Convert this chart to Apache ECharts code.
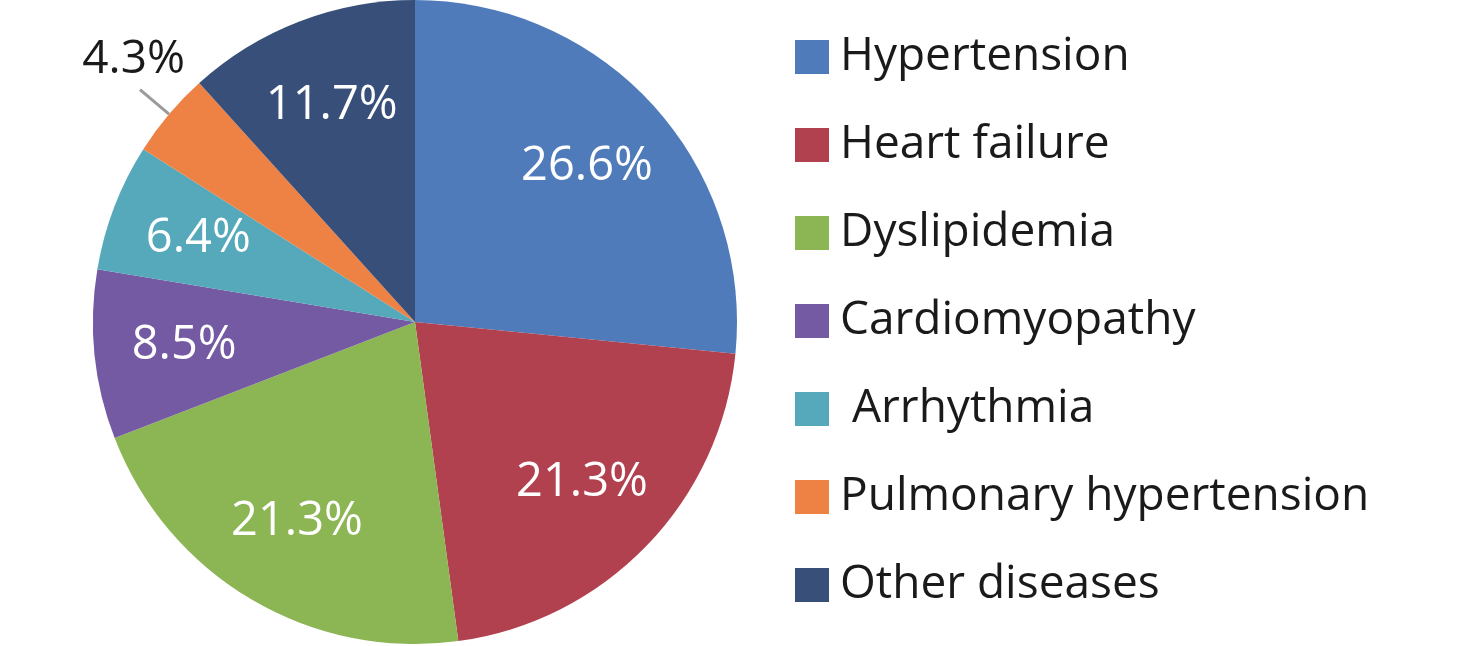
<html lang="en">
<head>
    <meta charset="UTF-8">
    <title>Disease distribution</title>
    <style>
        html, body { margin: 0; padding: 0; background: #fff; }
        #echart { width: 1476px; height: 646px; }
    </style>
</head>
<body>
<div id="echart"></div>
<script src="https://cdn.jsdelivr.net/npm/echarts@6/dist/echarts.min.js"></script>
<script>
    // 类别与数值（百分比）
    const categories = ['Hypertension', 'Heart failure', 'Dyslipidemia', 'Cardiomyopathy', ' Arrhythmia', 'Pulmonary hypertension', 'Other diseases']
    const percents = [26.6, 21.3, 21.3, 8.5, 6.4, 4.3, 11.7]
    const colors = ['#4f7bbb', '#b2414f', '#8cb554', '#7459a3', '#56a8bb', '#ee8244', '#384f79']
    // 这一项的标签放在外面
    const outsideName = 'Pulmonary hypertension'

    const font = 'Open Sans'
    const echart = echarts.init(document.getElementById('echart'))

    const mainData = categories.map((name, i) => {
        const item = { name: name, value: percents[i], itemStyle: { color: colors[i] } }
        if (name === outsideName) {
            item.label = { show: true, position: 'outside', color: '#1a1a1a' }
            item.labelLine = { show: true, length: 38, length2: 0, lineStyle: { color: '#9a9a9a', width: 3 } }
        }
        return item
    })

    // 第二个透明系列只用来把内部标签放得更靠外
    const labelData = categories.map((name, i) => ({
        name: name,
        value: percents[i],
        label: { show: name !== outsideName }
    }))

    echart.setOption({
        animation: false,
        legend: {
            orient: 'vertical',
            left: 790,
            top: 29,
            height: 600,
            itemWidth: 34,
            itemHeight: 34,
            itemGap: 42,
            icon: 'rect',
            data: categories,
            selectedMode: false,
            textStyle: {
                fontFamily: font,
                fontSize: 46,
                color: '#1a1a1a',
                padding: [0, 0, 0, 6]
            }
        },
        series: [{
            type: 'pie',
            name: 'main',
            center: [415, 322],
            radius: 322,
            startAngle: 90,
            clockwise: true,
            avoidLabelOverlap: false,
            silent: true,
            itemStyle: { borderWidth: 0 },
            label: {
                show: false,
                formatter: '{c}%',
                fontFamily: font,
                fontSize: 46
            },
            labelLine: { show: false },
            labelLayout: params => {
                if (params.dataIndex === categories.indexOf(outsideName)) {
                    return { dx: 50, dy: -30 }
                }
                return {}
            },
            data: mainData
        }, {
            type: 'pie',
            name: 'labels',
            center: [415, 322],
            radius: [136, 322],
            startAngle: 90,
            clockwise: true,
            avoidLabelOverlap: false,
            silent: true,
            itemStyle: { color: 'rgba(0,0,0,0)', borderWidth: 0 },
            label: {
                position: 'inside',
                formatter: '{c}%',
                color: '#fff',
                fontFamily: font,
                fontSize: 47
            },
            labelLine: { show: false },
            data: labelData
        }]
    })
</script>
</body>
</html>
